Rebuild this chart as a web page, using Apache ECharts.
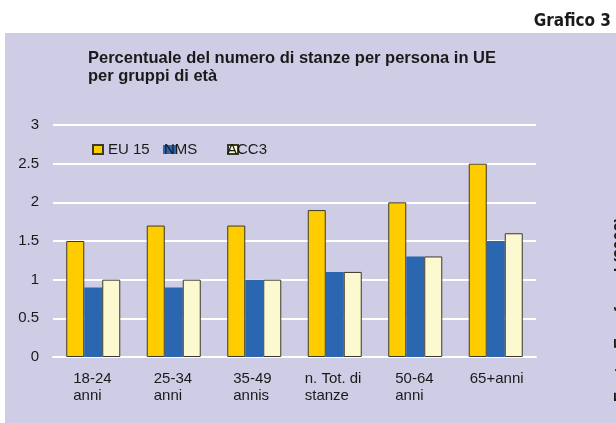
<!DOCTYPE html>
<html>
<head>
<meta charset="utf-8">
<script src="https://cdn.jsdelivr.net/npm/echarts@6/dist/echarts.min.js"></script>
<style>
  html, body { margin: 0; padding: 0; background: #ffffff; }
  #chart { width: 616px; height: 423px; }
</style>
</head>
<body>
<div id="chart"></div>
<script>
const categories = ['18-24\nanni', '25-34\nanni', '35-49\nannis', 'n. Tot. di\nstanze', '50-64\nanni', '65+anni'];
const eu15 = [1.5, 1.7, 1.7, 1.9, 2.0, 2.5];
const nms = [0.9, 0.9, 1.0, 1.1, 1.3, 1.5];
const acc3 = [1.0, 1.0, 1.0, 1.1, 1.3, 1.6];
const yTicks = { min: 0, max: 3, interval: 0.5 };

const labelWidths = [40, 40, 42, 60, 40, 52];
const rich = {};
labelWidths.forEach((w, i) => {
  rich['c' + i] = { width: w, align: 'left', fontSize: 15, lineHeight: 17, color: '#1a1a1a', fontFamily: 'Liberation Sans, Arial' };
});

const chart = echarts.init(document.getElementById('chart'));

const legendBase = {
  top: 142,
  padding: 0,
  itemWidth: 10,
  itemHeight: 9,
  icon: 'rect',
  textStyle: { fontSize: 15, color: '#1a1a1a', fontFamily: 'Liberation Sans, Arial' }
};

chart.setOption({
  backgroundColor: '#ffffff',
  animation: false,
  graphic: [
    { type: 'rect', z: -10, shape: { x: 5, y: 33, width: 611, height: 390 }, style: { fill: '#cfcce6' } },
    { type: 'text', left: 88, top: 49, style: {
      text: 'Percentuale del numero di stanze per persona in UE\nper gruppi di età',
      fontSize: 16.5, fontWeight: 'bold', lineHeight: 18, fill: '#1a1a1a', fontFamily: 'Liberation Sans, Arial' } },
    { type: 'text', right: 5, top: 13, style: {
      text: 'Grafico 3', fontSize: 17, fontWeight: 'bold', fill: '#1a1a1a', fontFamily: 'DejaVu Sans Condensed, DejaVu Sans' } },
    { type: 'text', x: 614, y: 402, rotation: Math.PI / 2, style: {
      text: 'Fonte: Eurofound (2003)', fontSize: 16, fontWeight: 'bold', fill: '#1a1a1a',
      align: 'left', verticalAlign: 'top', fontFamily: 'Liberation Sans, Arial' } }
  ],
  legend: [
    Object.assign({}, legendBase, { left: 92, data: ['EU 15'] }),
    Object.assign({}, legendBase, { left: 163, data: ['NMS'], itemWidth: 13, textStyle: Object.assign({}, legendBase.textStyle, { padding: [0, 0, 0, -17] }) }),
    Object.assign({}, legendBase, { left: 227, data: ['ACC3'], textStyle: Object.assign({}, legendBase.textStyle, { padding: [0, 0, 0, -16] }) })
  ],
  grid: { left: 53, right: 80, top: 125, bottom: 66, containLabel: false },
  xAxis: {
    type: 'category',
    data: categories,
    axisLine: { lineStyle: { color: '#ffffff', width: 2 } },
    axisTick: { show: false },
    axisLabel: {
      margin: 13,
      interval: 0,
      formatter: (value, idx) => value.split('\n').map(l => '{c' + idx + '|' + l + '}').join('\n'),
      rich: rich
    }
  },
  yAxis: {
    type: 'value',
    min: yTicks.min,
    max: yTicks.max,
    interval: yTicks.interval,
    axisLine: { show: false },
    axisTick: { show: false },
    axisLabel: { margin: 14, fontSize: 15, color: '#1a1a1a', fontFamily: 'Liberation Sans, Arial' },
    splitLine: { lineStyle: { color: '#ffffff', width: 2 } }
  },
  series: [
    { name: 'EU 15', type: 'bar', barWidth: 18, barGap: '0%', data: eu15,
      itemStyle: { color: '#ffcc00', borderColor: '#3a3a2a', borderWidth: 1 } },
    { name: 'NMS', type: 'bar', barWidth: 18, barGap: '0%', data: nms,
      itemStyle: { color: '#2b66b0' } },
    { name: 'ACC3', type: 'bar', barWidth: 18, barGap: '0%', data: acc3,
      itemStyle: { color: '#fcf8d0', borderColor: '#3a3a2a', borderWidth: 1 } }
  ]
});
</script>
</body>
</html>
